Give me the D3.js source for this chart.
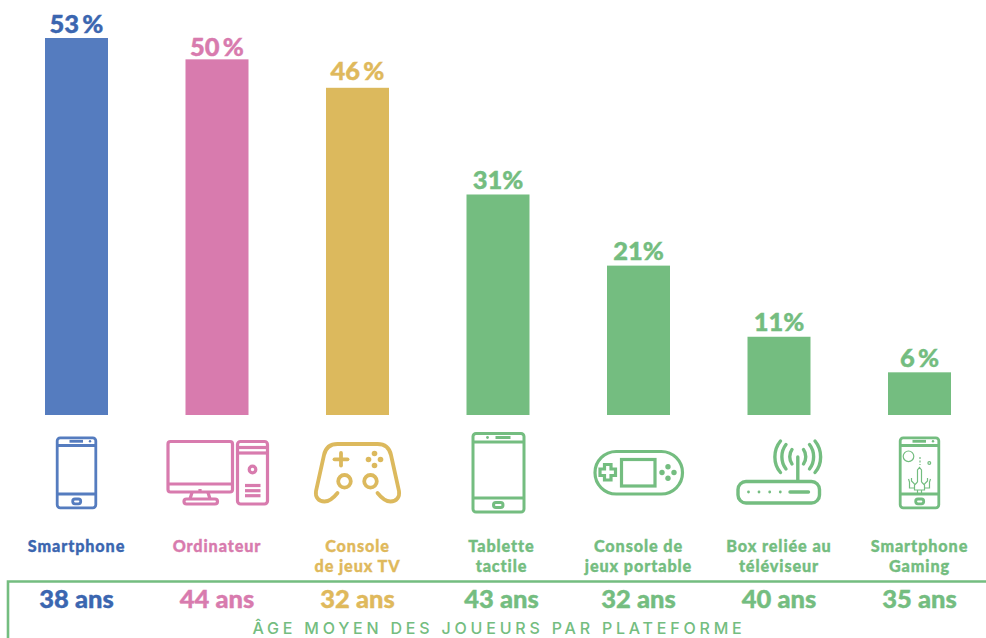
<!DOCTYPE html>
<html>
<head>
<meta charset="utf-8">
<script src="https://cdn.jsdelivr.net/npm/d3@7"></script>
<style>
  html, body { margin: 0; padding: 0; background: #fff; }
  svg { display: block; }
  text { font-family: Lato, sans-serif; font-weight: 900; text-anchor: middle; }
</style>
</head>
<body>
<div id="chart"></div>
<script>
const categories = ["Smartphone", "Ordinateur", "Console de jeux TV", "Tablette tactile", "Console de jeux portable", "Box reliée au téléviseur", "Smartphone Gaming"];
const labelLines = [["Smartphone"], ["Ordinateur"], ["Console", "de jeux TV"], ["Tablette", "tactile"], ["Console de", "jeux portable"], ["Box reliée au", "téléviseur"], ["Smartphone", "Gaming"]];
const shares = [53, 50, 46, 31, 21, 11, 6];
const shareLabels = ["53\u2009%", "50\u2009%", "46\u2009%", "31%", "21%", "11%", "6\u2009%"];
const ages = [38, 44, 32, 43, 32, 40, 35];
const barColors = ["#557cbf", "#d87bae", "#dcb95d", "#74bd80", "#74bd80", "#74bd80", "#74bd80"];
const textColors = ["#3b66b0", "#d87bae", "#dfb95c", "#74bd80", "#74bd80", "#74bd80", "#74bd80"];
const caption = "ÂGE MOYEN DES JOUEURS PAR PLATEFORME";

const width = 986, height = 638;

const svg = d3.select("#chart")
    .append("svg")
    .attr("width", width)
    .attr("height", height);

const x = d3.scaleBand()
    .domain(categories)
    .range([45, 951])
    .paddingInner(0.5516)
    .paddingOuter(0);

const y = d3.scaleLinear()
    .domain([0, 53])
    .range([415, 38]);

// bars
svg.append("g")
    .selectAll("rect")
    .data(categories)
    .enter().append("rect")
    .attr("x", d => x(d))
    .attr("y", (d, i) => y(shares[i]))
    .attr("width", x.bandwidth())
    .attr("height", (d, i) => y(0) - y(shares[i]))
    .attr("fill", (d, i) => barColors[i]);

// percent labels, the gap above the bar differs a little in the original
const labelGaps = [6, 4, 8, 6, 6, 6, 6];
svg.append("g")
    .selectAll("text")
    .data(categories)
    .enter().append("text")
    .attr("x", d => x(d) + x.bandwidth() / 2)
    .attr("y", (d, i) => y(shares[i]) - labelGaps[i] + 0.5)
    .attr("font-size", 25.5)
    .attr("fill", (d, i) => textColors[i])
    .attr("stroke", (d, i) => textColors[i])
    .attr("stroke-width", 0.4)
    .text((d, i) => shareLabels[i]);

// icons, drawn around the bar centre, y measured from 420
function roundRect(g, x0, y0, w, h, r) {
  return g.append("rect").attr("x", x0).attr("y", y0).attr("width", w).attr("height", h).attr("rx", r);
}
function line(g, x1, y1, x2, y2) {
  return g.append("line").attr("x1", x1).attr("y1", y1).attr("x2", x2).attr("y2", y2);
}
function dot(g, cx, cy, r) {
  return g.append("circle").attr("cx", cx).attr("cy", cy).attr("r", r).attr("fill", "currentColor").attr("stroke", "none");
}
function phone(g) {
  roundRect(g, -19.3, 17.8, 38.6, 70, 3);
  line(g, -19, 25.5, 19, 25.5);
  line(g, -19, 74, 19, 74);
  line(g, -7, 21.3, 6.5, 21.3);
  dot(g, 13.5, 21.3, 1.2);
  roundRect(g, -3.8, 79, 8, 4.8, 2.2);
}
const icons = [
  phone,
  g => {
    g.style("stroke-width", 3.2);
    roundRect(g, -49, 21.5, 64.5, 50.5, 2.5);
    line(g, -49, 64, 15.5, 64);
    line(g, -17, 69, -17, 72);
    g.append("path").attr("d", "M-25,72.5L-27,79M-9,72.5L-7,79");
    roundRect(g, -33, 79, 33.5, 5, 2.5);
    roundRect(g, 20.5, 21.5, 30, 62.5, 3);
    line(g, 20.5, 27.5, 50.5, 27.5);
    line(g, 20.5, 33, 50.5, 33);
    g.append("circle").attr("cx", 35.5).attr("cy", 49.5).attr("r", 3.3);
    line(g, 28, 65.5, 43.5, 65.5);
    line(g, 28, 70.7, 43.5, 70.7);
    line(g, 28, 75.7, 43.5, 75.7);
  },
  g => {
    g.style("stroke-width", 3.8).style("stroke-linecap", "round");
    g.append("path").attr("d", "M-20,73C-24,78 -28,81.5 -33,81.5C-39,81.5 -42.5,77 -41.5,71L-33.5,35C-32,28 -27,24 -20,24L20,24C27,24 32,28 33.5,35L41.5,71C42.5,77 39,81.5 33,81.5C28,81.5 24,78 20,73");
    g.append("circle").attr("cx", -13).attr("cy", 61.3).attr("r", 6.3);
    g.append("circle").attr("cx", 13).attr("cy", 61.3).attr("r", 6.3);
    line(g, -23, 39.3, -10, 39.3);
    line(g, -16.5, 33, -16.5, 45.5);
    dot(g, 17, 33.5, 2.8); dot(g, 11, 39.5, 2.8); dot(g, 23, 39.5, 2.8); dot(g, 17, 45.5, 2.8);
  },
  g => {
    g.style("stroke-width", 3);
    roundRect(g, -25, 13.5, 51, 78.5, 3);
    line(g, -25, 22, 26, 22);
    line(g, -25, 78, 26, 78);
    line(g, -2.5, 17.5, 12.5, 17.5);
    dot(g, -10.5, 17.5, 1.4);
    roundRect(g, -4.5, 82.5, 9.5, 5, 2.4);
  },
  g => {
    g.style("stroke-width", 3.2);
    roundRect(g, -43.5, 31.5, 87.5, 42.5, 21.2);
    g.append("rect").attr("x", -17).attr("y", 39.5).attr("width", 33.5).attr("height", 26.5);
    g.append("path").attr("d", "M-34,44.5h6.5v4.5h4.5v6.5h-4.5v4.5h-6.5v-4.5h-4.5v-6.5h4.5z");
    dot(g, 29.5, 46.8, 2.7); dot(g, 23.5, 52.5, 2.7); dot(g, 35.5, 52.5, 2.7); dot(g, 29.5, 58.3, 2.7);
  },
  g => {
    g.style("stroke-linecap", "round").style("stroke-width", 3.4);
    roundRect(g, -41, 61.5, 81.5, 21.5, 8);
    line(g, 18.8, 37, 18.8, 61);
    g.append("path").attr("d", "M13,29.5C10,33.5 10,40 13,44M24.5,29.5C27.5,33.5 27.5,40 24.5,44");
    g.append("path").attr("d", "M7,24.5C1.5,31.5 1.5,42 7,49M30.5,24.5C36,31.5 36,42 30.5,49");
    g.append("path").attr("d", "M1.5,21C-6,30 -6,44 1.5,52.5M36,21C43.5,30 43.5,44 36,52.5");
    dot(g, -30.5, 72, 1.4); dot(g, -20, 72, 1.4); dot(g, -9.3, 72, 1.4); dot(g, 1.3, 72, 1.4);
    g.append("line").attr("x1", 11).attr("y1", 72).attr("x2", 29.5).attr("y2", 72);
  },
  g => {
    phone(g);
    const thin = g.append("g").style("stroke-width", 1.2);
    thin.append("circle").attr("cx", -11).attr("cy", 36.3).attr("r", 5.3);
    thin.append("line").attr("x1", 0.5).attr("y1", 37).attr("x2", 0.5).attr("y2", 45).attr("stroke-dasharray", "2 1.5");
    thin.append("circle").attr("cx", 9.8).attr("cy", 43).attr("r", 1.4);
    thin.append("path").attr("d", "M-2,62V50l2,-2.5l2,2.5V62M-2,62l-3,3v5h10v-5l-3,-3M-5,64l-3,-3v-3M5,64l3,-3v-3M-5,68h-5v-6l-1,-3M5,68h5v-6l1,-3M-2,70v4M2,70v4");
  }
];

const iconG = svg.append("g")
    .selectAll("g")
    .data(categories)
    .enter().append("g")
    .attr("transform", d => `translate(${x(d) + x.bandwidth() / 2},420)`)
    .attr("color", (d, i) => barColors[i])
    .attr("fill", "none")
    .attr("stroke", (d, i) => barColors[i])
    .attr("stroke-width", 2.8);
iconG.each(function(d, i) { icons[i](d3.select(this)); });

// category names and ages
const labelX = (d, i) => x(d) + x.bandwidth() / 2 + (i === 3 ? 3.5 : 0);

svg.append("g")
    .selectAll("text")
    .data(categories)
    .enter().append("text")
    .attr("font-size", 16.2)
    .attr("letter-spacing", 0.9)
    .attr("fill", (d, i) => textColors[i])
    .attr("stroke", (d, i) => textColors[i])
    .attr("stroke-width", 0.35)
    .each(function(d, i) {
      d3.select(this).selectAll("tspan")
        .data(labelLines[i])
        .enter().append("tspan")
        .attr("x", labelX(d, i))
        .attr("y", (t, j) => 552 + j * 19.5)
        .text(t => t);
    });

// green frame, open on the right and the bottom of the page
svg.append("path")
    .attr("d", `M8,${height}V581.5H${width}`)
    .attr("fill", "none")
    .attr("stroke", "#74bd80")
    .attr("stroke-width", 2.6);

svg.append("g")
    .selectAll("text")
    .data(categories)
    .enter().append("text")
    .attr("x", labelX)
    .attr("y", 608)
    .attr("font-size", 25.5)
    .attr("fill", (d, i) => textColors[i])
    .attr("stroke", (d, i) => textColors[i])
    .attr("stroke-width", 0.4)
    .text((d, i) => `${ages[i]} ans`);

svg.append("text")
    .attr("x", 499)
    .attr("y", 634)
    .attr("font-size", 16)
    .attr("letter-spacing", 3.8)
    .style("font-family", "Inter, sans-serif")
    .style("font-weight", 500)
    .attr("fill", "#74bd80")
    .text(caption);
</script>
</body>
</html>
